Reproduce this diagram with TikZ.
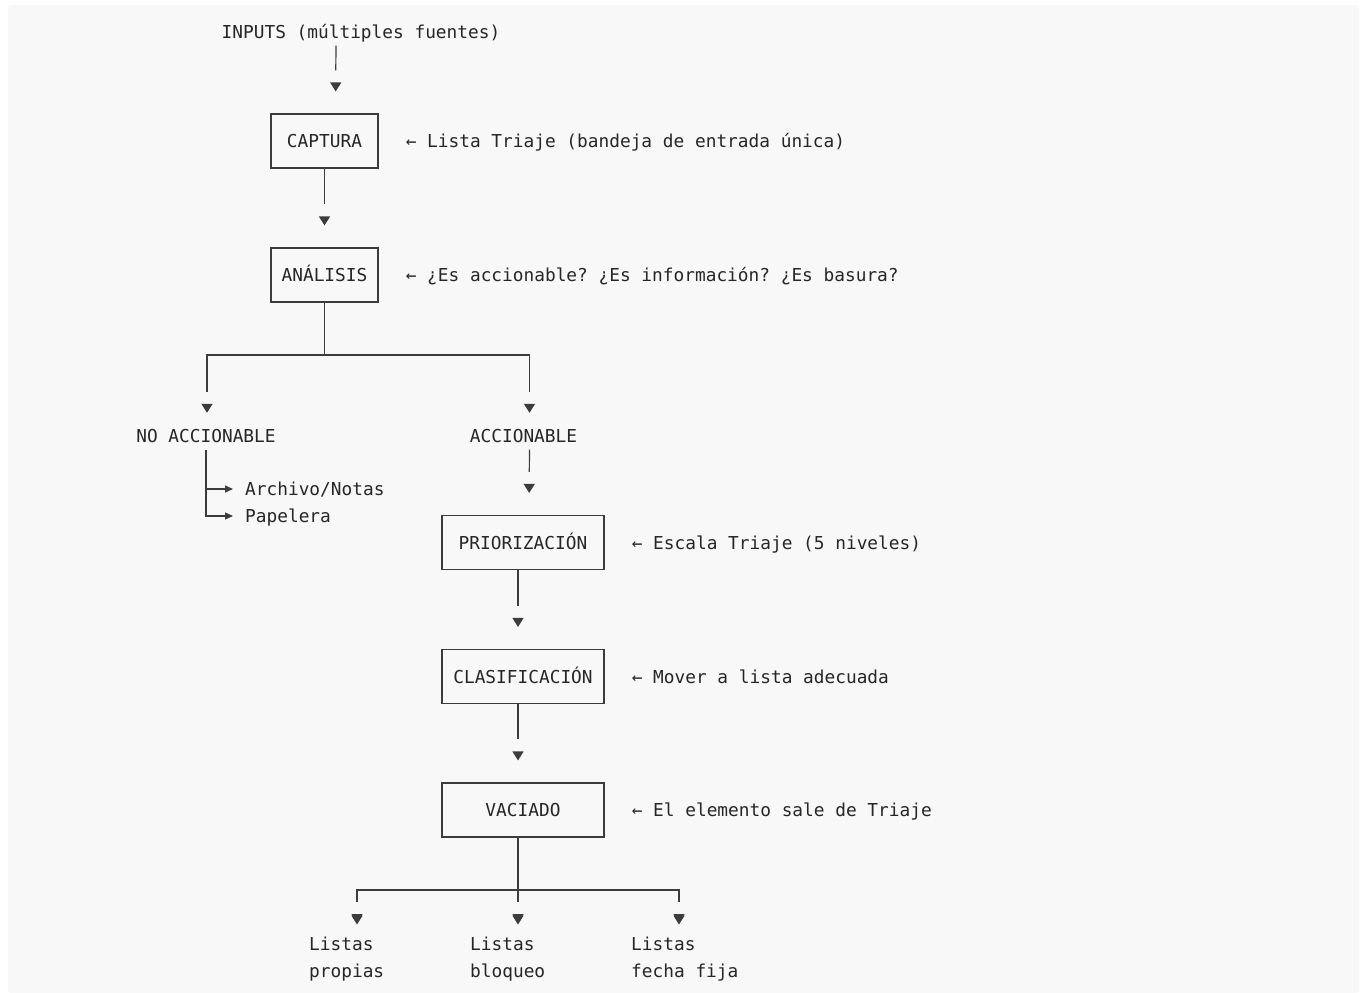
\documentclass[tikz,border=0pt]{standalone}
\usepackage{fontspec}
\setmainfont{DejaVu Sans Mono}
\usetikzlibrary{arrows.meta,positioning,decorations.markings}
\definecolor{panel}{HTML}{F8F8F8}
\definecolor{ink}{HTML}{262626}
\definecolor{rule}{HTML}{3C3C3C}
\frenchspacing
\tikzset{
    txt/.style={inner sep=0pt,text=ink,text height=17pt,text depth=4pt},
    box/.style={txt,draw=rule,line width=1.1pt,minimum height=54pt},
    note/.style={txt,anchor=west},
    leaf/.style={inner sep=0pt,text=ink,align=left,anchor=north west},
    tipat/.style={postaction={decorate,decoration={markings,
        mark=at position -#1 with {\arrow[rule]{Triangle[width=11pt,length=9pt]}}}}},
    flow/.style={draw=rule,line width=1.2pt,shorten >=43pt,tipat=22pt},
    flowtxt/.style={draw=rule,line width=1.2pt,shorten >=33.5pt,tipat=12.5pt},
    side/.style={draw=rule,line width=1.2pt,-{Triangle[width=7pt,length=8pt]},shorten >=12pt}
}

\begin{document}
\begin{tikzpicture}[x=1pt,y=-1pt,font=\fontsize{17.8}{26.7}\selectfont]
        \useasboundingbox (0,0) rectangle (1366,993);
        \fill[panel,rounded corners=3pt] (8,5) rectangle (1359,993);

        % main column
        \node[txt] (inputs) at (361,32) {INPUTS (múltiples fuentes)};
        \node[box,minimum width=107pt] (captura) at (324.5,141) {CAPTURA};
        \node[box,minimum width=107pt] (analisis) at (324.5,275) {ANÁLISIS};
        \node[txt] (noacc) at (206,436) {NO ACCIONABLE};
        \node[txt] (acc) at (523.5,436) {ACCIONABLE};
        \node[txt,anchor=west] (archivo) at (245,489) {Archivo/Notas};
        \node[txt,anchor=west] (papelera) at (245,516) {Papelera};
        \node[box,minimum width=162pt] (prior) at (523,542.5) {PRIORIZACIÓN};
        \node[box,minimum width=162pt] (clasif) at (523,676.5) {CLASIFICACIÓN};
        \node[box,minimum width=162pt] (vaciado) at (523,810) {VACIADO};
        \node[leaf] (lpropias) at (309,937) {Listas\\propias};
        \node[leaf] (lbloqueo) at (470,937) {Listas\\bloqueo};
        \node[leaf] (lfecha) at (631,937) {Listas\\fecha fija};

        % notes on the right
        \node[note,right=27pt of captura] {← Lista Triaje (bandeja de entrada única)};
        \node[note,right=27pt of analisis] {← ¿Es accionable? ¿Es información? ¿Es basura?};
        \node[note,right=27pt of prior] {← Escala Triaje (5 niveles)};
        \node[note,right=27pt of clasif] {← Mover a lista adecuada};
        \node[note,right=27pt of vaciado] {← El elemento sale de Triaje};

        \coordinate (fork1) at (324.5,355);
        \coordinate (fork2) at (518,890);

        \draw[flow,shorten <=3pt] ([xshift=-25pt]inputs.south) -- ([xshift=11pt]captura.north);
        \draw[flow] (captura) -- (analisis);
        \draw[flowtxt] (analisis.south) -- (fork1) -| ([xshift=1pt]noacc.north);
        \draw[flowtxt] (fork1) -| ([xshift=6pt]acc.north);
        \draw[side,shorten <=3pt] (noacc.south) |- (archivo.west);
        \draw[side,shorten <=3pt] (noacc.south) |- (papelera.west);
        \draw[flow,shorten <=3pt] ([xshift=6pt]acc.south) -- ([xshift=6pt]prior.north);
        \draw[flow] ([xshift=-5pt]prior.south) -- ([xshift=-5pt]clasif.north);
        \draw[flow] ([xshift=-5pt]clasif.south) -- ([xshift=-5pt]vaciado.north);
        \draw[flowtxt,shorten >=35pt,tipat=14pt] ([xshift=-5pt]vaciado.south) -- (fork2) -| ([xshift=48pt]lpropias.north west);
        \draw[flowtxt,shorten >=35pt,tipat=14pt] (fork2) -- ([xshift=48pt]lbloqueo.north west);
        \draw[flowtxt,shorten >=35pt,tipat=14pt] (fork2) -| ([xshift=48pt]lfecha.north west);
\end{tikzpicture}
\end{document}
